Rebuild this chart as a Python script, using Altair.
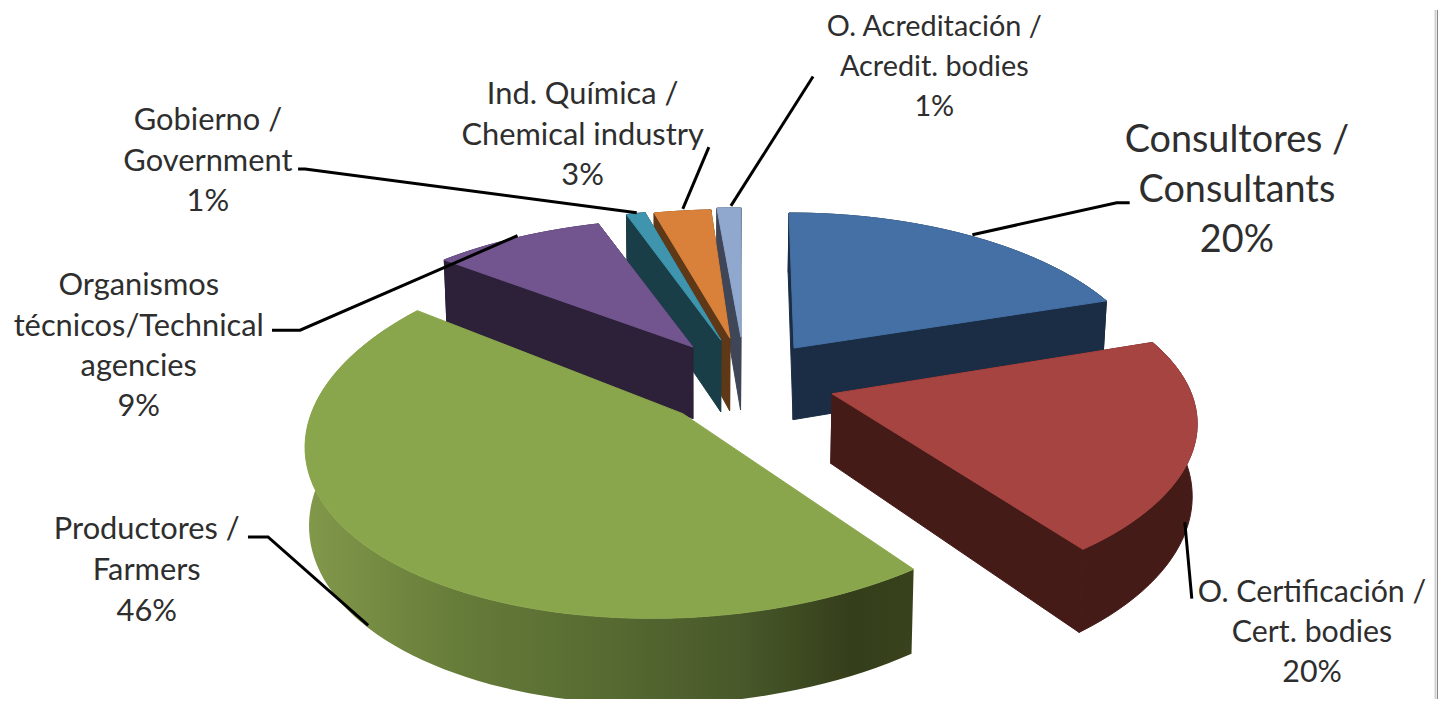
import math
import altair as alt

# ---- chart values, as printed on the picture ----
CATEGORIES = ["Consultores / Consultants", "O. Certificación / Cert. bodies", "Productores / Farmers",
              "Organismos técnicos/Technical agencies", "Gobierno / Government",
              "Ind. Química / Chemical industry", "O. Acreditación / Acredit. bodies"]
VALUES = [20, 20, 46, 9, 1, 3, 1]
TOP_COLORS = ["#4470A5", "#A64441", "#8AA64C", "#72558F", "#3E95AD", "#D9813A", "#90A7CE"]
WALL_COLORS = ["#1B2D45", "#451B18", "#38421C", "#2C2138", "#1A3E48", "#5E3817", "#3E4657"]

LABEL_LINES = [
    ["Consultores /", "Consultants", "20%"],
    ["O. Certificación /", "Cert. bodies", "20%"],
    ["Productores /", "Farmers", "46%"],
    ["Organismos", "técnicos/Technical", "agencies", "9%"],
    ["Gobierno /", "Government", "1%"],
    ["Ind. Química /", "Chemical industry", "3%"],
    ["O. Acreditación /", "Acredit. bodies", "1%"],
]

# ---- layout of the exploded 3-D pie (page pixels) ----
W, H = 1438, 693
# apex x, apex y, a, b, c, d, perspective k, depth
SLICE_VIEW = [
    (793, 348, 350, -6, 0, -163, .2, 72),
    (831, 394, 357, 0, -4, -165, .2, 70),
    (682, 414, 374, 10, -10, -185, .1, 78),
    (692, 347, 363, 0, 0, -155, .2, 72),
    (720, 340, 363, 0, 0, -158, .2, 72),
    (729, 338, 363, 0, 0, -155, .2, 73),
    (740, 337, 458, 0, 0, -156, .2, 73),
]
VX, SHRINK = 700, .99
LABEL_POS = [(1235, 140, 50, 38), (1310, 594, 40.5, 30.5), (147, 531, 41, 31), (139, 286, 40.4, 31),
             (208, 120, 40.5, 31), (582, 94, 40.5, 31), (933, 25, 40.5, 29)]
LEADERS = [
    [(971, 234), (1115, 202), (1128, 202)],
    [(1183, 523), (1190, 600)],
    [(368, 627), (268, 538), (248, 538)],
    [(517, 235), (300, 330), (272, 330)],
    [(636, 212), (305, 168), (298, 168)],
    [(682, 208), (708, 146)],
    [(730, 205), (812, 75)],
]
FRAME_DARK = [[(1438.5, 0), (1438.5, 701)]]
FRAME_PALE = [[(1435.5, 0), (1435.5, 701)]]
OFF_Y = -8
STRETCH, SHIFT = .9925, 8.5


def fx(x):
    return (x - SHIFT) / STRETCH


def project(i, deg):
    ax, ay, a, b, c, d, k, dep = SLICE_VIEW[i]
    X, Y = math.sin(math.radians(deg)), math.cos(math.radians(deg))
    s = 1 / (1 + k * Y)
    return ax + (a * X + b * Y) * s, ay + (c * X + d * Y) * s, s


def lower(i, p):
    dep = SLICE_VIEW[i][7]
    return VX + (p[0] - VX) * SHRINK, p[1] + dep * p[2]


def poly(points, fill):
    ring = [[round(fx(x), 2), round(y, 2)] for x, y in points]
    ring.append(ring[0])
    return {"type": "Feature", "geometry": {"type": "Polygon", "coordinates": [ring]},
            "properties": {"fill": fill}}


def slice_parts(i):
    total = sum(VALUES)
    start = sum(VALUES[:i]) / total * 360
    end = sum(VALUES[:i + 1]) / total * 360
    n = max(2, int((end - start) / 2))
    arc = [project(i, start + (end - start) * j / n) for j in range(n + 1)]
    apex = (SLICE_VIEW[i][0], SLICE_VIEW[i][1], 1.0)
    top = poly([apex[:2]] + [p[:2] for p in arc], TOP_COLORS[i])
    wall = [
        poly([p[:2] for p in arc] + [lower(i, p) for p in reversed(arc)], WALL_COLORS[i]),
        poly([apex[:2], arc[0][:2], lower(i, arc[0]), lower(i, apex)], WALL_COLORS[i]),
        poly([apex[:2], arc[-1][:2], lower(i, arc[-1]), lower(i, apex)], WALL_COLORS[i]),
    ]
    return wall, top


PROJ = dict(type="identity", scale=1, translate=[0, OFF_Y])


def flat(features):
    return (alt.Chart(alt.Data(values=features)).mark_geoshape(strokeWidth=1)
            .encode(fill=alt.Fill("properties.fill:N", scale=None),
                    stroke=alt.Stroke("properties.fill:N", scale=None))
            .project(**PROJ))


def lines(paths, color, width, stretch=True):
    feats = [{"type": "Feature",
              "geometry": {"type": "LineString",
                           "coordinates": [[fx(p[0]) if stretch else p[0], p[1]] for p in path]},
              "properties": {}} for path in paths]
    return (alt.Chart(alt.Data(values=feats))
            .mark_geoshape(filled=False, stroke=color, strokeWidth=width)
            .project(**PROJ))


parts = [slice_parts(i) for i in range(len(VALUES))]
back = []
for i in (6, 5, 4, 3):
    back += parts[i][0] + [parts[i][1]]

green_wall = (alt.Chart(alt.Data(values=[parts[2][0][0]]))
              .mark_geoshape(strokeWidth=0, fill=alt.Gradient(
                  gradient="linear", x1=0, x2=1, y1=0, y2=0,
                  stops=[alt.GradientStop(offset=0, color="#82994B"),
                         alt.GradientStop(offset=.25, color="#667C39"),
                         alt.GradientStop(offset=.5, color="#566A31"),
                         alt.GradientStop(offset=.72, color="#48582A"),
                         alt.GradientStop(offset=.9, color="#343E1A"),
                         alt.GradientStop(offset=1, color="#38421C")]))
              .project(**PROJ))

front = parts[0][0] + [parts[0][1]] + parts[1][0] + [parts[1][1]]

rows = []
for lbl, (cx, y0, lh, fs) in zip(LABEL_LINES, LABEL_POS):
    for j, t in enumerate(lbl):
        rows.append({"px": fx(cx), "py": y0 + j * lh, "t": t, "fs": fs})

text = (alt.Chart(alt.Data(values=rows))
        .mark_text(font="Lato", align="center", baseline="middle", color="#2E2E2E")
        .encode(x=alt.X("px:Q", scale=alt.Scale(domain=[0, W], range=[0, W]), axis=None),
                y=alt.Y("py:Q", scale=alt.Scale(domain=[-OFF_Y, H - OFF_Y], range=[0, H]), axis=None),
                text="t:N",
                size=alt.Size("fs:Q", scale=None, legend=None)))

chart = alt.layer(
    flat(back),
    green_wall,
    flat([parts[2][1]]),
    flat(front),
    lines(LEADERS, "#000000", 3),
    lines(FRAME_DARK, "#8A8A8A", 3, stretch=False),
    lines(FRAME_PALE, "#CFCFCF", 2, stretch=False),
    text,
).properties(
    width=W, height=H, padding=0,
    autosize=alt.AutoSizeParams(type="none"),
    background="white",
).configure_view(stroke=None)

chart.save("out.html", embed_options={"renderer": "svg", "actions": False})
